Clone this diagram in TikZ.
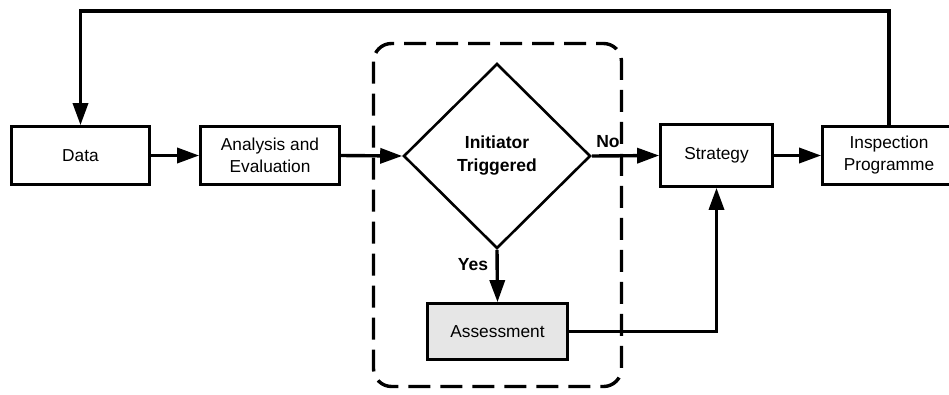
\documentclass[tikz,border=0pt]{standalone}
\usepackage{fontspec}
\setmainfont{Liberation Sans}
\usetikzlibrary{arrows.meta,shapes.geometric}
\tikzset{
  stepbox/.style={draw, line width=3.2pt, rectangle, inner sep=0pt, align=center,
    font=\fontsize{17.3}{22}\selectfont},
  decision/.style={draw, line width=2.6pt, diamond, inner sep=0pt, align=center,
    minimum width=187pt, minimum height=185pt,
    font=\fontsize{17.5}{23}\selectfont\bfseries},
  flow/.style={line width=3.4pt, -{Triangle[length=22pt,width=15pt]}},
  plain/.style={line width=3.4pt},
  answer/.style={font=\fontsize{17.5}{21}\selectfont\bfseries, inner sep=0pt},
  group/.style={draw, line width=3.4pt, dash pattern=on 22pt off 10pt, rounded corners=18pt}
}
\begin{document}
\begin{tikzpicture}[x=1pt,y=-1pt]
  \useasboundingbox (0,0) rectangle (949,394);
  \clip (0,0) rectangle (949,394);

  % dashed group around the decision
  \draw[group] (373.5,43.5) rectangle (621.5,386.5);

  % process steps
  \node[stepbox, minimum width=137.5pt, minimum height=57.5pt] (data) at (80.5,155.5) {Data};
  \node[stepbox, minimum width=138.5pt, minimum height=57.5pt] (anal) at (270,155.5) {Analysis and\\Evaluation};
  \node[decision] (dec) at (497,156) {Initiator\\Triggered};
  \node[stepbox, minimum width=139.5pt, minimum height=55.5pt, fill={rgb,255:red,230;green,230;blue,230}] (assess) at (497.5,331.5) {Assessment};
  \node[stepbox, minimum width=111.5pt, minimum height=61.5pt] (strat) at (716.5,155.5) {Strategy};
  \node[stepbox, minimum width=132.5pt, minimum height=57.5pt] (insp) at (889,155.5) {Inspection\\Programme};

  % connectors
  \draw[flow] (data.east) -- (anal.west);
  \draw[flow] (anal.east) -- (dec.west);
  \draw[flow] (dec.east) -- (strat.west);
  \draw[flow] (strat.east) -- (insp.west);
  \draw[flow] (dec.south) -- (assess.north);
  \draw[flow] (assess.east) -| (strat.south);

  % feedback loop
  \coordinate (fb) at (0,11);
  \draw[flow] (insp.north) -- (insp.north |- fb) -| (data.north);

  % branch labels
  \node[answer] (no) at (608,142) {No};
  \node[answer] (yes) at (473,265) {Yes};
\end{tikzpicture}
\end{document}
